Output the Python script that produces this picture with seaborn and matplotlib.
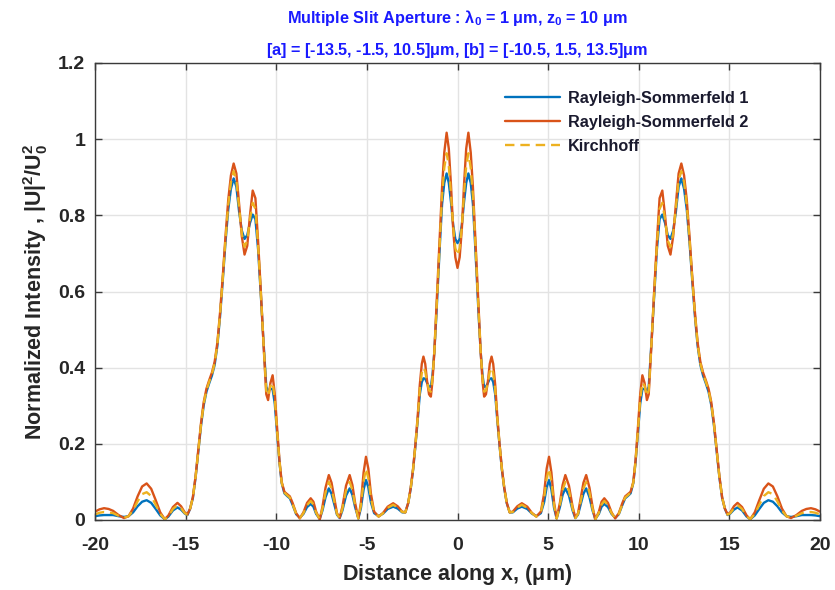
import numpy as np
import pandas as pd
import matplotlib
matplotlib.use("Agg")
import matplotlib.pyplot as plt
import seaborn as sns

# Observation positions along x (micrometres)
x_um = [
    -20.0, -19.75, -19.5, -19.25, -19.0, -18.7, -18.4, -18.15, -17.9, -17.65,
    -17.4, -17.15, -16.9, -16.65, -16.4, -16.15, -15.95, -15.7, -15.45, -15.25,
    -15.05, -14.9, -14.75, -14.6, -14.45, -14.3, -14.15, -14.0, -13.85, -13.7,
    -13.55, -13.4, -13.25, -13.1, -12.95, -12.8, -12.65, -12.5, -12.35, -12.2,
    -12.05, -11.9, -11.75, -11.6, -11.45, -11.3, -11.15, -11.0, -10.85, -10.7,
    -10.55, -10.45, -10.32, -10.2, -10.08, -9.95, -9.82, -9.7, -9.55, -9.4,
    -9.25, -9.1, -8.9, -8.7, -8.5, -8.3, -8.1, -7.95, -7.8, -7.6,
    -7.45, -7.28, -7.1, -6.95, -6.8, -6.65, -6.5, -6.35, -6.15, -5.95,
    -5.8, -5.65, -5.47, -5.33, -5.18, -5.05, -4.92, -4.78, -4.6, -4.35,
    -4.1, -3.85, -3.55, -3.3, -3.05, -2.88, -2.72, -2.58, -2.45, -2.32,
    -2.2, -2.08, -1.97, -1.88, -1.78, -1.68, -1.57, -1.47, -1.38, -1.28,
    -1.18, -1.07, -0.96, -0.85, -0.73, -0.6, -0.48, -0.36, -0.24, -0.12,
    0.0,
    0.12, 0.24, 0.36, 0.48, 0.6, 0.73, 0.85, 0.96, 1.07, 1.18,
    1.28, 1.38, 1.47, 1.57, 1.68, 1.78, 1.88, 1.97, 2.08, 2.2,
    2.32, 2.45, 2.58, 2.72, 2.88, 3.05, 3.3, 3.55, 3.85, 4.1,
    4.35, 4.6, 4.78, 4.92, 5.05, 5.18, 5.33, 5.47, 5.65, 5.8,
    5.95, 6.15, 6.35, 6.5, 6.65, 6.8, 6.95, 7.1, 7.28, 7.45,
    7.6, 7.8, 7.95, 8.1, 8.3, 8.5, 8.7, 8.9, 9.1, 9.25,
    9.4, 9.55, 9.7, 9.82, 9.95, 10.08, 10.2, 10.32, 10.45, 10.55,
    10.7, 10.85, 11.0, 11.15, 11.3, 11.45, 11.6, 11.75, 11.9, 12.05,
    12.2, 12.35, 12.5, 12.65, 12.8, 12.95, 13.1, 13.25, 13.4, 13.55,
    13.7, 13.85, 14.0, 14.15, 14.3, 14.45, 14.6, 14.75, 14.9, 15.05,
    15.25, 15.45, 15.7, 15.95, 16.15, 16.4, 16.65, 16.9, 17.15, 17.4,
    17.65, 17.9, 18.15, 18.4, 18.7, 19.0, 19.25, 19.5, 19.75, 20.0,
]

# Rayleigh-Sommerfeld 1 intensity
rs1 = [
    .010, .012, .013, .013, .013, .010, .008, .010, .020, .036,
    .048, .052, .045, .029, .012, .002, .009, .025, .033, .027,
    .017, .013, .030, .058, .112, .180, .248, .302, .337, .359,
    .379, .407, .457, .535, .630, .730, .815, .870, .897, .875,
    .810, .760, .738, .748, .780, .802, .790, .710, .590, .465,
    .350, .338, .345, .343, .305, .225, .150, .097, .070, .063,
    .057, .040, .015, .006, .016, .034, .042, .035, .016, .003,
    .025, .060, .083, .069, .041, .014, .005, .025, .064, .083,
    .066, .034, .004, .031, .080, .105, .086, .047, .018, .010,
    .017, .029, .035, .030, .020, .020, .044, .083, .132, .196,
    .260, .330, .362, .372, .371, .360, .350, .350, .380, .440,
    .525, .630, .735, .830, .885, .910, .885, .835, .775, .738,
    .727,
    .738, .775, .835, .885, .910, .885, .830, .735, .630, .525,
    .440, .380, .350, .350, .360, .371, .372, .362, .330, .260,
    .196, .132, .083, .044, .020, .020, .030, .035, .029, .017,
    .010, .018, .047, .086, .105, .080, .031, .004, .034, .066,
    .083, .064, .025, .005, .014, .041, .069, .083, .060, .025,
    .003, .016, .035, .042, .034, .016, .006, .015, .040, .057,
    .063, .070, .097, .150, .225, .305, .343, .345, .338, .350,
    .465, .590, .710, .790, .802, .780, .748, .738, .760, .810,
    .875, .897, .870, .815, .730, .630, .535, .457, .407, .379,
    .359, .337, .302, .248, .180, .112, .058, .030, .013, .017,
    .027, .033, .025, .009, .002, .012, .029, .045, .052, .048,
    .036, .020, .010, .008, .010, .013, .013, .013, .012, .010,
]

# Rayleigh-Sommerfeld 2 intensity
rs2 = [
    .022, .028, .031, .029, .024, .013, .005, .010, .030, .062,
    .088, .096, .082, .052, .020, .002, .012, .034, .045, .036,
    .020, .015, .030, .060, .115, .185, .255, .310, .345, .367,
    .387, .415, .465, .545, .640, .745, .840, .905, .936, .910,
    .830, .745, .697, .720, .800, .865, .845, .730, .600, .460,
    .330, .315, .360, .380, .330, .240, .155, .100, .074, .068,
    .062, .045, .018, .004, .020, .045, .057, .048, .022, .001,
    .035, .085, .118, .098, .058, .018, .006, .035, .090, .118,
    .092, .045, .004, .045, .125, .166, .135, .070, .022, .009,
    .019, .035, .044, .036, .022, .020, .045, .085, .135, .200,
    .270, .355, .410, .429, .410, .365, .330, .324, .365, .440,
    .540, .650, .765, .875, .965, 1.017, .975, .880, .765, .690,
    .662,
    .690, .765, .880, .975, 1.017, .965, .875, .765, .650, .540,
    .440, .365, .324, .330, .365, .410, .429, .410, .355, .270,
    .200, .135, .085, .045, .020, .022, .036, .044, .035, .019,
    .009, .022, .070, .135, .166, .125, .045, .004, .045, .092,
    .118, .090, .035, .006, .018, .058, .098, .118, .085, .035,
    .001, .022, .048, .057, .045, .020, .004, .018, .045, .062,
    .068, .074, .100, .155, .240, .330, .380, .360, .315, .330,
    .460, .600, .730, .845, .865, .800, .720, .697, .745, .830,
    .910, .936, .905, .840, .745, .640, .545, .465, .415, .387,
    .367, .345, .310, .255, .185, .115, .060, .030, .015, .020,
    .036, .045, .034, .012, .002, .020, .052, .082, .096, .088,
    .062, .030, .010, .005, .013, .024, .029, .031, .028, .022,
]

# Kirchhoff intensity
kirchhoff = [
    .015, .019, .021, .020, .018, .011, .006, .010, .025, .049,
    .068, .073, .063, .040, .016, .002, .010, .029, .039, .031,
    .018, .014, .030, .059, .113, .182, .251, .306, .341, .363,
    .383, .411, .461, .540, .635, .737, .827, .887, .916, .892,
    .820, .752, .717, .734, .790, .833, .817, .720, .595, .462,
    .340, .326, .352, .361, .317, .232, .152, .098, .072, .065,
    .059, .042, .016, .005, .018, .039, .050, .041, .019, .002,
    .030, .072, .100, .083, .049, .016, .005, .030, .077, .100,
    .079, .039, .004, .038, .102, .135, .110, .058, .020, .009,
    .018, .032, .040, .033, .021, .020, .044, .084, .133, .198,
    .265, .342, .386, .400, .390, .362, .340, .337, .372, .440,
    .532, .640, .750, .852, .925, .963, .930, .857, .770, .714,
    .695,
    .714, .770, .857, .930, .963, .925, .852, .750, .640, .532,
    .440, .372, .337, .340, .362, .390, .400, .386, .342, .265,
    .198, .133, .084, .044, .020, .021, .033, .040, .032, .018,
    .009, .020, .058, .110, .135, .102, .038, .004, .039, .079,
    .100, .077, .030, .005, .016, .049, .083, .100, .072, .030,
    .002, .019, .041, .050, .039, .018, .005, .016, .042, .059,
    .065, .072, .098, .152, .232, .317, .361, .352, .326, .340,
    .462, .595, .720, .817, .833, .790, .734, .717, .752, .820,
    .892, .916, .887, .827, .737, .635, .540, .461, .411, .383,
    .363, .341, .306, .251, .182, .113, .059, .030, .014, .018,
    .031, .039, .029, .010, .002, .016, .040, .063, .073, .068,
    .049, .025, .010, .006, .011, .018, .020, .021, .019, .015,
]

x_ticks = [-20, -15, -10, -5, 0, 5, 10, 15, 20]
y_ticks = [0, 0.2, 0.4, 0.6, 0.8, 1.0, 1.2]
y_tick_labels = ["0", "0.2", "0.4", "0.6", "0.8", "1", "1.2"]

sns.set_theme(style="whitegrid")
plt.rcParams["font.family"] = ["Liberation Sans", "DejaVu Sans"]
plt.rcParams["font.weight"] = "bold"
plt.rcParams["mathtext.fontset"] = "custom"
plt.rcParams["mathtext.rm"] = "Liberation Sans:bold"
plt.rcParams["mathtext.it"] = "Liberation Sans:bold:italic"
plt.rcParams["mathtext.bf"] = "Liberation Sans:bold"
plt.rcParams["mathtext.default"] = "rm"

fig = plt.figure(figsize=(8.35, 5.9), dpi=100)
ax = fig.add_axes([95 / 835, 1 - 520 / 590, 725 / 835, 457 / 590])

c_rs1 = "#0072BD"
c_rs2 = "#D95319"
c_kir = "#EDB120"

sns.lineplot(x=x_um, y=rs1, color=c_rs1, linewidth=1.7, label="Rayleigh-Sommerfeld 1", ax=ax)
sns.lineplot(x=x_um, y=rs2, color=c_rs2, linewidth=1.7, label="Rayleigh-Sommerfeld 2", ax=ax)
sns.lineplot(x=x_um, y=kirchhoff, color=c_kir, linewidth=1.7, linestyle=(0, (4, 2.5)),
             label="Kirchhoff", ax=ax)

ax.set_xlim(-20, 20)
ax.set_ylim(0, 1.2)
ax.set_xticks(x_ticks)
ax.set_xticklabels([str(t) for t in x_ticks])
ax.set_yticks(y_ticks)
ax.set_yticklabels(y_tick_labels)

ax.grid(True, color="#e3e3e3", linewidth=1.0)
for side in ["left", "right", "top", "bottom"]:
    ax.spines[side].set_visible(True)
    ax.spines[side].set_color("#3a3a3a")
    ax.spines[side].set_linewidth(1.0)
ax.tick_params(axis="both", which="both", direction="in", length=5, width=1.0,
               color="#3a3a3a", top=True, right=True, bottom=True, left=True,
               labelsize=14, labelcolor="#262626")
ax.tick_params(axis="x", pad=12)
ax.tick_params(axis="y", pad=7)
for lab in ax.get_xticklabels() + ax.get_yticklabels():
    lab.set_fontweight("bold")

ax.set_xlabel(r"Distance along x, ($\mu$m)", fontsize=15.5, fontweight="bold",
              color="#262626", labelpad=6)
ax.set_ylabel(r"Normalized Intensity , |U|$^2$/U$_0^2$", fontsize=15.5,
              fontweight="bold", color="#262626", labelpad=6)

ax.set_title(r"Multiple Slit Aperture : $\lambda_0$ = 1 $\mu$m, z$_0$ = 10 $\mu$m"
             "\n"
             r"[a] = [-13.5, -1.5, 10.5]$\mu$m, [b] = [-10.5, 1.5, 13.5]$\mu$m",
             fontsize=11.7, fontweight="bold", color="#1a1aff", linespacing=1.9, pad=6)

leg = ax.legend(loc="upper left", bbox_to_anchor=((505 - 95) / 725, (520 - 91) / 457),
                frameon=False, fontsize=11.7, handlelength=3.4, handletextpad=0.45,
                labelspacing=0.55, borderaxespad=0.0, borderpad=0.0)
for t in leg.get_texts():
    t.set_fontweight("bold")
    t.set_color("#1a1a2e")

fig.savefig("out.png", dpi=100)
